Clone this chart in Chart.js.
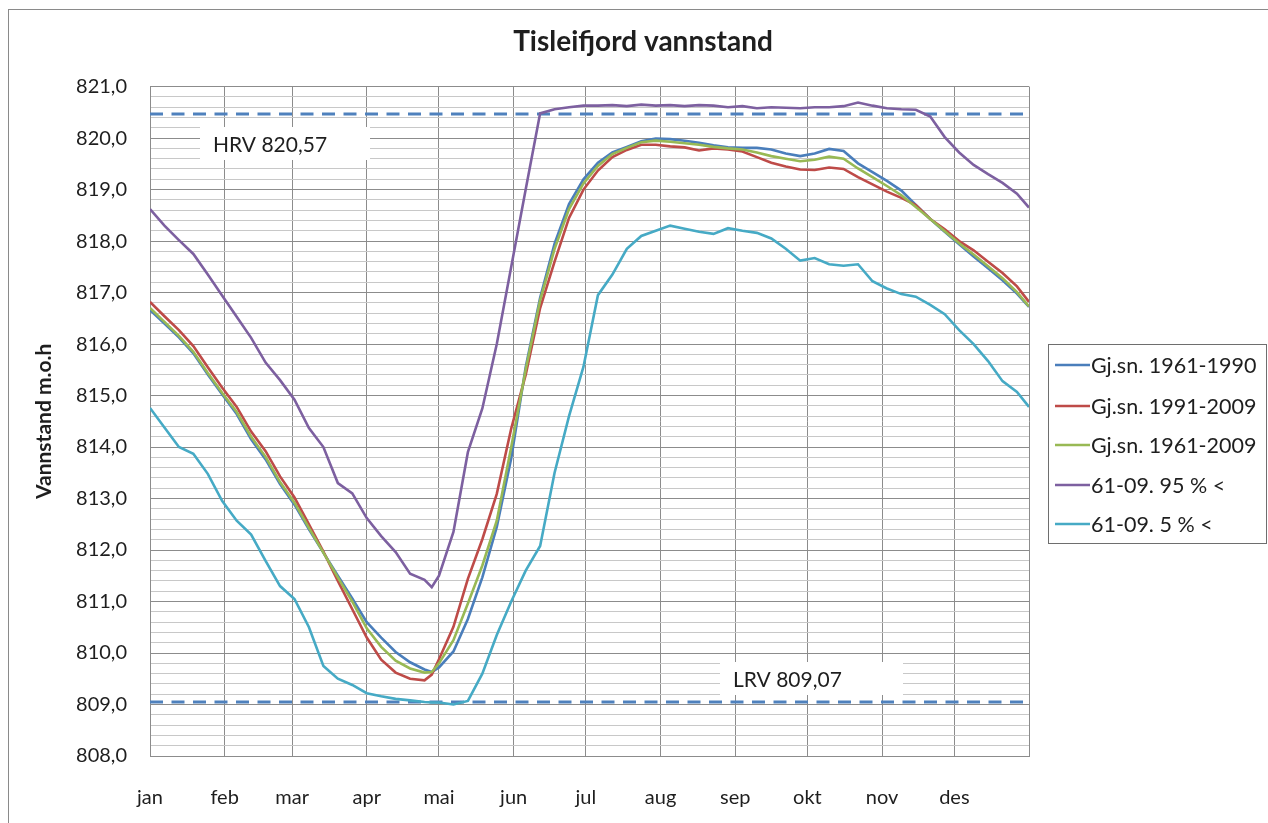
<!DOCTYPE html>
<html><head><meta charset="utf-8">
<script src="https://cdn.jsdelivr.net/npm/chart.js@4.4.1/dist/chart.umd.min.js"></script>
<style>html,body{margin:0;padding:0;background:#fff;}canvas{display:block;}</style>
</head><body>
<canvas id="c" width="1268" height="823"></canvas>
<script>
// ---- data (day of year, water level m.o.h) ----
const days = [1,7,13,19,25,31,37,43,49,55,61,67,73,79,85,91,97,103,109,115,118,121,127,133,139,145,151,157,163,169,175,181,187,193,199,205,211,217,223,229,235,241,247,253,259,265,271,277,283,289,295,301,307,313,319,325,331,337,343,349,355,361,366];

const avg1961_1990 = [816.66,816.40,816.13,815.82,815.41,815.02,814.64,814.15,813.76,813.28,812.88,812.40,811.95,811.50,811.06,810.60,810.30,810.02,809.82,809.68,809.63,809.72,810.03,810.66,811.47,812.45,813.78,815.55,816.90,817.95,818.72,819.20,819.52,819.72,819.83,819.94,819.99,819.98,819.95,819.91,819.86,819.82,819.81,819.81,819.78,819.70,819.65,819.70,819.79,819.75,819.51,819.34,819.17,818.98,818.70,818.43,818.18,817.94,817.70,817.47,817.24,816.98,816.72];

const avg1991_2009 = [816.82,816.54,816.27,815.96,815.55,815.15,814.78,814.30,813.92,813.43,813.02,812.50,811.97,811.40,810.85,810.30,809.87,809.62,809.50,809.47,809.58,809.88,810.51,811.44,812.21,813.09,814.36,815.40,816.70,817.60,818.45,819.00,819.37,819.63,819.77,819.87,819.87,819.84,819.82,819.76,819.80,819.78,819.74,819.63,819.52,819.45,819.39,819.38,819.43,819.40,819.24,819.10,818.96,818.84,818.70,818.43,818.23,818.00,817.82,817.60,817.38,817.12,816.82];

const avg1961_2009 = [816.70,816.43,816.16,815.85,815.44,815.05,814.68,814.20,813.81,813.32,812.92,812.43,811.95,811.47,811.00,810.48,810.12,809.85,809.70,809.62,809.63,809.80,810.25,810.96,811.70,812.57,814.00,815.50,816.85,817.85,818.62,819.12,819.46,819.69,819.81,819.92,819.95,819.93,819.90,819.87,819.83,819.80,819.78,819.72,819.65,819.60,819.55,819.58,819.64,819.60,819.41,819.24,819.07,818.89,818.66,818.43,818.19,817.96,817.74,817.51,817.28,817.01,816.73];

const p95 = [818.62,818.30,818.02,817.75,817.35,816.94,816.53,816.12,815.64,815.30,814.92,814.37,814.00,813.30,813.10,812.62,812.27,811.96,811.54,811.42,811.28,811.50,812.35,813.90,814.75,816.00,817.50,819.00,820.48,820.56,820.60,820.63,820.63,820.64,820.62,820.65,820.63,820.64,820.62,820.64,820.63,820.60,820.62,820.58,820.60,820.59,820.58,820.60,820.60,820.62,820.69,820.63,820.58,820.56,820.55,820.42,820.02,819.72,819.48,819.30,819.13,818.92,818.65];

const p5 = [814.76,814.38,814.00,813.87,813.48,812.95,812.57,812.30,811.79,811.30,811.05,810.50,809.75,809.50,809.38,809.22,809.16,809.11,809.08,809.05,809.04,809.04,809.00,809.07,809.60,810.35,811.00,811.60,812.08,813.50,814.60,815.56,816.95,817.35,817.85,818.10,818.20,818.30,818.24,818.18,818.14,818.25,818.20,818.16,818.05,817.85,817.62,817.67,817.55,817.52,817.55,817.22,817.08,816.97,816.92,816.76,816.58,816.27,816.00,815.67,815.28,815.07,814.78];

const seriesNames = ['Gj.sn. 1961-1990','Gj.sn. 1991-2009','Gj.sn. 1961-2009','61-09. 95 % <','61-09. 5 % <'];
const seriesColors = ['#4a7ebb','#be4b48','#98b954','#7d60a0','#46aac5'];

const monthStarts = [1,32,60,91,121,152,182,213,244,274,305,335];
const monthLabels = ['jan','feb','mar','apr','mai','jun','jul','aug','sep','okt','nov','des'];
const yearEnd = 366;

const hrvLevel = 820.47, lrvLevel = 809.05;
const hrvText = 'HRV 820,57', lrvText = 'LRV 809,07';
const yMin = 808, yMax = 821, yMinorStep = 0.2;

const titleText = 'Tisleifjord vannstand';
const yTitleText = 'Vannstand m.o.h';

// ---- build ----
const FONT = 'Lato, "Open Sans", sans-serif';
const TXT = '#1e1e1e';
const toXY = arr => arr.map((v, i) => ({x: days[i], y: v}));
const seriesData = [avg1961_1990, avg1991_2009, avg1961_2009, p95, p5];

const datasets = seriesData.map((arr, i) => ({
  label: seriesNames[i],
  data: toXY(arr),
  borderColor: seriesColors[i],
  backgroundColor: seriesColors[i],
  borderWidth: 2.6,
  pointRadius: 0,
  tension: 0,
  order: 5 - i
}));
[hrvLevel, lrvLevel].forEach((lvl, i) => datasets.push({
  label: i ? 'LRV' : 'HRV',
  data: [{x: 1, y: lvl}, {x: yearEnd, y: lvl}],
  borderColor: '#4f81bd',
  borderWidth: 3,
  borderDash: [13, 8.5],
  pointRadius: 0,
  order: 20
}));

const framePlugin = {
  id: 'frame',
  beforeDraw(chart) {
    const c = chart.ctx;
    c.save();
    c.fillStyle = '#fff';
    c.fillRect(0, 0, chart.width, chart.height);
    c.strokeStyle = '#8a8a8a';
    c.lineWidth = 1;
    c.strokeRect(8.5, 9.5, chart.width + 10, chart.height + 10);
    c.restore();
  }
};

const boxLabels = {
  id: 'boxLabels',
  beforeDatasetsDraw(chart) {
    const c = chart.ctx;
    c.save();
    c.fillStyle = '#fff';
    c.fillRect(200, 127, 170, 33);
    c.fillRect(720, 662, 183, 33);
    c.fillStyle = TXT;
    c.font = '21px ' + FONT;
    c.textBaseline = 'middle';
    c.textAlign = 'left';
    c.fillText(hrvText, 213, 145);
    c.fillText(lrvText, 733, 680);
    c.restore();
  }
};

const legendPlugin = {
  id: 'customLegend',
  afterDraw(chart) {
    const c = chart.ctx;
    c.save();
    c.strokeStyle = '#6e6e6e';
    c.lineWidth = 1;
    c.strokeRect(1048.5, 344.5, 218, 199);
    const rows = [365, 406, 445, 485, 524];
    c.font = '21.5px ' + FONT;
    c.textBaseline = 'middle';
    c.textAlign = 'left';
    seriesNames.forEach((name, i) => {
      c.strokeStyle = seriesColors[i];
      c.lineWidth = 2.6;
      c.beginPath();
      c.moveTo(1055, rows[i]);
      c.lineTo(1090, rows[i]);
      c.stroke();
      c.fillStyle = TXT;
      c.fillText(name, 1091, rows[i] + 1);
    });
    c.restore();
  }
};

new Chart(document.getElementById('c'), {
  type: 'line',
  data: {datasets},
  options: {
    responsive: false,
    animation: false,
    devicePixelRatio: 1,
    layout: {padding: {left: 18, right: 0, top: 9, bottom: 0}},
    plugins: {
      legend: {display: false},
      tooltip: {enabled: false},
      title: {
        display: true, text: titleText, color: TXT,
        font: {family: FONT, size: 28, weight: 'bold'},
        padding: {top: 16, bottom: 28}
      }
    },
    scales: {
      x: {
        type: 'linear', min: 1, max: yearEnd,
        afterBuildTicks(s) { s.ticks = monthStarts.concat([yearEnd]).map(v => ({value: v})); },
        afterFit(s) { s.height = 67; },
        ticks: {
          autoSkip: false, maxRotation: 0, padding: 30, color: TXT,
          font: {family: FONT, size: 20},
          callback(v) { const i = monthStarts.indexOf(v); return i >= 0 ? monthLabels[i] : ''; }
        },
        grid: {color: '#8c8c8c', lineWidth: 1, drawTicks: false},
        border: {display: true, color: '#8c8c8c'}
      },
      y: {
        type: 'linear', min: yMin, max: yMax,
        afterBuildTicks(s) {
          const t = [];
          const n = Math.round((yMax - yMin) / yMinorStep);
          for (let k = 0; k <= n; k++) t.push({value: +(yMin + k * yMinorStep).toFixed(1)});
          s.ticks = t;
        },
        afterFit(s) { s.width = 132; },
        ticks: {
          autoSkip: false, padding: 23, color: TXT,
          font: {family: FONT, size: 20},
          callback(v) { return Math.abs(v - Math.round(v)) < 1e-6 ? Math.round(v) + ',0' : ''; }
        },
        grid: {
          drawTicks: false, lineWidth: 1,
          color: ctx => Math.abs(ctx.tick.value - Math.round(ctx.tick.value)) < 1e-6 ? '#8c8c8c' : '#c8c8c8'
        },
        border: {display: true, color: '#8c8c8c'},
        title: {display: true, text: yTitleText, color: TXT, font: {family: FONT, size: 21, weight: 'bold'}, padding: {top: 14, bottom: 0}}
      },
      reserve: {
        type: 'linear', position: 'right', min: 0, max: 1,
        afterFit(s) { s.width = 239; },
        ticks: {display: false}, grid: {display: false}, border: {display: false}
      }
    }
  },
  plugins: [framePlugin, boxLabels, legendPlugin]
});
</script>
</body></html>
